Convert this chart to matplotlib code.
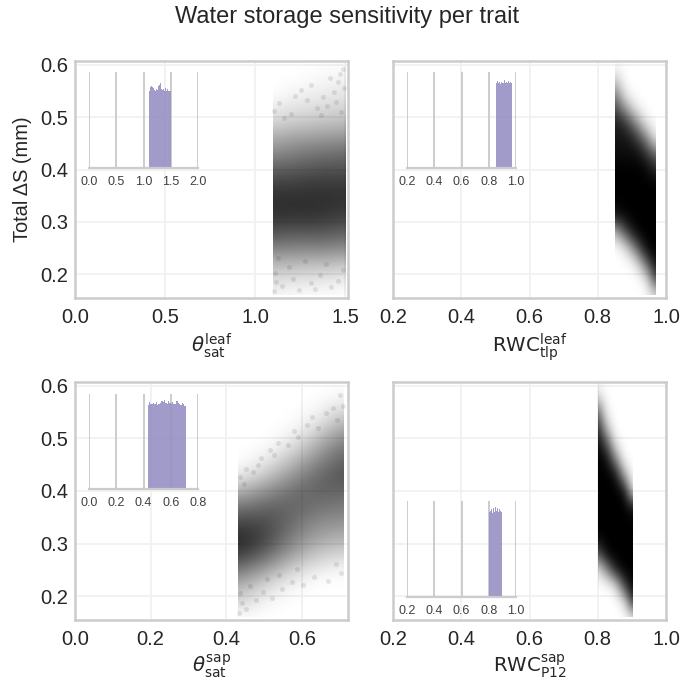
import numpy as np
import matplotlib
matplotlib.use('Agg')
import matplotlib.pyplot as plt
from matplotlib.colors import LinearSegmentedColormap
from matplotlib.patches import Rectangle

plt.rcParams['font.family'] = ['Liberation Sans', 'DejaVu Sans']
plt.rcParams['mathtext.fontset'] = 'dejavusans'

# cloud darkness, rows = y_rows, columns = x_*
y_rows = [0.16, 0.19, 0.22, 0.25, 0.28, 0.31, 0.34, 0.37, 0.40, 0.43, 0.46, 0.49, 0.52, 0.55, 0.58, 0.61]

x_leaf_sat = [1.10, 1.20, 1.30, 1.40, 1.50]
dark_leaf_sat = [
    [.03, .02, .01, .01, .00],
    [.14, .12, .11, .10, .07],
    [.28, .28, .26, .26, .23],
    [.50, .48, .48, .48, .45],
    [.68, .66, .66, .66, .62],
    [.80, .80, .80, .78, .75],
    [.82, .82, .82, .82, .80],
    [.76, .76, .78, .78, .78],
    [.62, .64, .66, .68, .68],
    [.46, .50, .54, .56, .58],
    [.32, .36, .38, .40, .42],
    [.16, .20, .22, .24, .26],
    [.06, .10, .12, .14, .16],
    [.00, .03, .05, .07, .09],
    [.00, .00, .01, .03, .04],
    [.00, .00, .00, .00, .00],
]

x_leaf_tlp = [0.85, 0.88, 0.91, 0.94, 0.97]
dark_leaf_tlp = [
    [.00, .00, .00, .00, .15],
    [.00, .00, .00, .05, .75],
    [.00, .00, .05, .55, .98],
    [.00, .10, .55, .98, 1.0],
    [.25, .70, .98, 1.0, 1.0],
    [.90, .98, 1.0, 1.0, 1.0],
    [1.0, 1.0, 1.0, 1.0, 1.0],
    [1.0, 1.0, 1.0, 1.0, 1.0],
    [1.0, 1.0, 1.0, .98, .85],
    [.95, .95, .95, .85, .55],
    [.92, .92, .82, .50, .05],
    [.88, .80, .45, .08, .00],
    [.72, .35, .05, .00, .00],
    [.45, .03, .00, .00, .00],
    [.12, .00, .00, .00, .00],
    [.00, .00, .00, .00, .00],
]

x_sap_sat = [0.43, 0.50, 0.57, 0.64, 0.71]
dark_sap_sat = [
    [.01, .00, .00, .00, .00],
    [.18, .04, .00, .00, .00],
    [.33, .16, .04, .00, .00],
    [.55, .38, .18, .07, .03],
    [.78, .62, .38, .22, .16],
    [.85, .75, .50, .35, .30],
    [.72, .72, .58, .45, .42],
    [.52, .60, .62, .55, .52],
    [.28, .42, .55, .62, .60],
    [.06, .20, .40, .58, .68],
    [.00, .06, .23, .45, .62],
    [.00, .00, .08, .30, .52],
    [.00, .00, .01, .13, .36],
    [.00, .00, .00, .03, .18],
    [.00, .00, .00, .00, .04],
    [.00, .00, .00, .00, .00],
]

x_sap_p12 = [0.80, 0.825, 0.85, 0.875, 0.90]
dark_sap_p12 = [
    [.00, .00, .00, .00, .10],
    [.00, .00, .00, .10, .85],
    [.00, .00, .12, .75, 1.0],
    [.10, .45, .90, 1.0, 1.0],
    [.65, .98, 1.0, 1.0, 1.0],
    [.98, 1.0, 1.0, 1.0, 1.0],
    [1.0, 1.0, 1.0, 1.0, 1.0],
    [1.0, 1.0, 1.0, 1.0, .90],
    [1.0, 1.0, 1.0, .95, .10],
    [1.0, 1.0, .95, .35, .00],
    [1.0, .95, .50, .02, .00],
    [.95, .70, .08, .00, .00],
    [.85, .25, .00, .00, .00],
    [.60, .04, .00, .00, .00],
    [.15, .00, .00, .00, .00],
    [.00, .00, .00, .00, .00],
]

# single faint points visible at the thin ends of the two looser clouds
fringe_leaf_x = [1.104, 1.118, 1.152, 1.109, 1.211, 1.243, 1.187, 1.312, 1.358, 1.276, 1.421, 1.394, 1.463, 1.491, 1.126, 1.335,
                 1.104, 1.162, 1.131, 1.223, 1.198, 1.287, 1.254, 1.342, 1.311, 1.378, 1.416, 1.447, 1.472, 1.493, 1.438, 1.486,
                 1.366, 1.402, 1.458, 1.479]
fringe_leaf_y = [0.168, 0.186, 0.177, 0.203, 0.192, 0.171, 0.214, 0.183, 0.199, 0.226, 0.176, 0.219, 0.188, 0.208, 0.232, 0.172,
                 0.512, 0.498, 0.527, 0.541, 0.506, 0.533, 0.552, 0.518, 0.561, 0.539, 0.574, 0.528, 0.583, 0.556, 0.548, 0.592,
                 0.504, 0.521, 0.566, 0.509]
fringe_sap_x = [0.433, 0.441, 0.452, 0.436, 0.478, 0.463, 0.497, 0.521, 0.508, 0.548, 0.574, 0.539, 0.603, 0.632, 0.588, 0.668, 0.703, 0.689,
                0.437, 0.452, 0.471, 0.446, 0.493, 0.517, 0.484, 0.536, 0.562, 0.527, 0.591, 0.613, 0.578, 0.642, 0.664, 0.627, 0.683, 0.702, 0.708, 0.694]
fringe_sap_y = [0.168, 0.187, 0.176, 0.207, 0.193, 0.219, 0.208, 0.196, 0.232, 0.214, 0.228, 0.241, 0.221, 0.237, 0.252, 0.229, 0.244, 0.262,
                0.427, 0.442, 0.436, 0.413, 0.463, 0.478, 0.449, 0.492, 0.487, 0.468, 0.503, 0.526, 0.514, 0.519, 0.548, 0.541, 0.557, 0.583, 0.561, 0.534]

# histogram tops in the insets, as fraction of inset height
hist_leaf_sat = [.80, .82, .84, .85, .82, .84, .83, .82, .81, .80, .90, .82, .81, .89, .85, .86,
                 .88, .84, .82, .81, .83, .82, .80, .81, .83, .80, .81, .82, .80, .81, .80, .80]
hist_leaf_tlp = [.88, .91, .89, .90, .87, .90, .88, .89, .92, .89, .90, .88, .91, .89, .90, .88]
hist_sap_sat = [.88, .92, .90, .89, .91, .89, .92, .88, .90, .91, .93, .92, .94, .91, .89, .93,
                .91, .90, .92, .89, .90, .93, .91, .90, .88, .91, .89, .87]
hist_sap_p12 = [.88, .90, .92, .87, .93, .89, .94, .90, .93, .92, .89, .92, .90, .88]

names = [r'$\theta_{\mathrm{sat}}^{\mathrm{leaf}}$', r'$\mathrm{RWC}_{\mathrm{tlp}}^{\mathrm{leaf}}$',
         r'$\theta_{\mathrm{sat}}^{\mathrm{sap}}$', r'$\mathrm{RWC}_{\mathrm{P12}}^{\mathrm{sap}}$']
main_xticks = [[0.0, 0.5, 1.0, 1.5], [0.2, 0.4, 0.6, 0.8, 1.0], [0.0, 0.2, 0.4, 0.6], [0.2, 0.4, 0.6, 0.8, 1.0]]
inset_xticks = [[0.0, 0.5, 1.0, 1.5, 2.0], [0.2, 0.4, 0.6, 0.8, 1.0], [0.0, 0.2, 0.4, 0.6, 0.8], [0.2, 0.4, 0.6, 0.8, 1.0]]
main_xlims = [(0, 1.516), (0.2, 1.0), (0, 0.722), (0.2, 1.0)]

clouds = [(x_leaf_sat, dark_leaf_sat), (x_leaf_tlp, dark_leaf_tlp), (x_sap_sat, dark_sap_sat), (x_sap_p12, dark_sap_p12)]
fringes = [(fringe_leaf_x, fringe_leaf_y), None, (fringe_sap_x, fringe_sap_y), None]
hists = [hist_leaf_sat, hist_leaf_tlp, hist_sap_sat, hist_sap_p12]

W, H = 680, 683
GREY = '#cccccc'
TXT = '#262626'
# pixel boxes: left, top, right, bottom
main_boxes = [(75, 61, 348, 298), (393, 61, 666, 298), (75, 382, 348, 620), (393, 382, 666, 620)]
inset_boxes = [(89, 72, 198, 167.5), (407, 72, 516, 167.5), (89, 394, 198, 489), (407, 501, 516, 596.5)]


def px_rect(box):
    l, t, r, b = box
    return [l / W, 1 - b / H, (r - l) / W, (b - t) / H]


cloud_cmap = LinearSegmentedColormap.from_list('cloud', [(0, 0, 0, 0), (0, 0, 0, 1)])

fig = plt.figure(figsize=(6.8, 6.83), dpi=100)
fig.text(347 / W, 1 - 17 / H, 'Water storage sensitivity per trait', ha='center', va='center',
         fontsize=17, color=TXT)

for i in range(4):
    ax = fig.add_axes(px_rect(main_boxes[i]))
    ax.set_axisbelow(True)
    ax.grid(True, color='#f0f0f0', linewidth=1.2)
    for s in ax.spines.values():
        s.set_color(GREY)
        s.set_linewidth(1.8)

    xs, dark = clouds[i]
    dx = xs[1] - xs[0]
    dy = y_rows[1] - y_rows[0]
    im = ax.imshow(dark, origin='lower', aspect='auto', cmap=cloud_cmap, vmin=0, vmax=1,
                   interpolation='bicubic', zorder=2,
                   extent=(xs[0] - dx / 2, xs[-1] + dx / 2, y_rows[0] - dy / 2, y_rows[-1] + dy / 2))
    # the clouds stop sharply at the ends of the sampled trait range
    im.set_clip_path(Rectangle((xs[0], y_rows[0]), xs[-1] - xs[0], y_rows[-1] - y_rows[0], transform=ax.transData))
    if fringes[i] is not None:
        ax.scatter(fringes[i][0], fringes[i][1], s=13, color='k', alpha=0.09, linewidths=0, zorder=3)

    ax.set_xlim(main_xlims[i])
    ax.set_ylim(0.155, 0.607)
    ax.set_xticks(main_xticks[i])
    ax.set_yticks([0.2, 0.3, 0.4, 0.5, 0.6])
    ax.tick_params(length=0, labelsize=14.5, labelcolor=TXT, pad=5)
    ax.tick_params(axis='x', pad=7)
    ax.set_xlabel(names[i], fontsize=14.2, color=TXT, labelpad=3)
    if i % 2:
        ax.set_yticklabels([])
    if i == 0:
        ax.set_ylabel('Total ΔS (mm)', fontsize=14.4, color=TXT, labelpad=6)

    ins = fig.add_axes(px_rect(inset_boxes[i]))
    ins.patch.set_alpha(0)
    ins.set_axisbelow(True)
    ins.grid(True, axis='x', color=GREY, linewidth=1.4)
    for side in ['top', 'left', 'right']:
        ins.spines[side].set_visible(False)
    ins.spines['bottom'].set_color(GREY)
    ins.spines['bottom'].set_linewidth(1.6)
    edges = np.linspace(xs[0], xs[-1], len(hists[i]) + 1)
    ins.stairs(hists[i], edges, fill=True, color='#9690c4', alpha=0.9, linewidth=0)
    ins.set_xlim(inset_xticks[i][0], inset_xticks[i][-1])
    ins.set_ylim(0, 1)
    ins.set_xticks(inset_xticks[i])
    ins.set_yticks([])
    ins.tick_params(length=0, labelsize=9, labelcolor='#404040', pad=6)

fig.savefig('out.png', dpi=100)
